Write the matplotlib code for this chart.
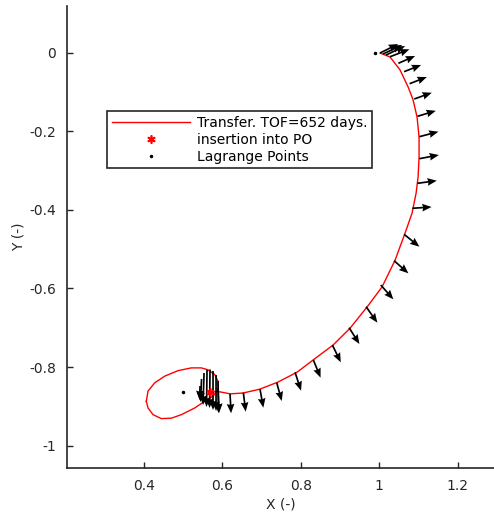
import matplotlib
matplotlib.use("Agg")
import matplotlib.pyplot as plt

# transfer trajectory
transfer_x = [1.0020, 1.0276, 1.0530, 1.0735, 1.0862, 1.0964, 1.1015, 1.1015, 1.0990, 1.0940,
              1.0837, 1.0658, 1.0403, 1.0071, 0.9689, 0.9255, 0.8821, 0.8311, 0.7903, 0.7418,
              0.6959, 0.6526, 0.6194, 0.5939, 0.5684]
transfer_y = [-0.001, -0.011, -0.044, -0.087, -0.120, -0.164, -0.215, -0.265, -0.316, -0.357,
              -0.408, -0.459, -0.528, -0.596, -0.647, -0.701, -0.744, -0.782, -0.813, -0.838,
              -0.856, -0.866, -0.868, -0.863, -0.863]

# periodic orbit around L4
po_x = [0.4059, 0.4102, 0.4273, 0.4528, 0.4867, 0.5207, 0.5462, 0.5633, 0.5804, 0.5888,
        0.5888, 0.5760, 0.5548, 0.5293, 0.4952, 0.4696, 0.4441, 0.4230, 0.4102, 0.4059]
po_y = [-0.887, -0.861, -0.840, -0.823, -0.809, -0.802, -0.802, -0.807, -0.819, -0.836,
        -0.858, -0.874, -0.887, -0.904, -0.921, -0.930, -0.931, -0.921, -0.904, -0.887]

# thrust arrows: tails and components
arrow_x = [1.0020, 1.0097, 1.0173, 1.0276, 1.0487, 1.0633, 1.0773, 1.0893, 1.0977, 1.1023,
           1.1023, 1.0977, 1.0844, 1.0633, 1.0378, 1.0038, 0.9663, 0.9230, 0.8804, 0.8319,
           0.7852, 0.7385, 0.6959, 0.6533, 0.6194,
           0.5429, 0.5467, 0.5531, 0.5607, 0.5684, 0.5760, 0.5837, 0.5888, 0.5888]
arrow_y = [-0.0008, -0.0033, -0.0059, -0.0102, -0.0270, -0.0483, -0.0789, -0.1178, -0.1618, -0.2137,
           -0.2697, -0.3323, -0.3959, -0.4621, -0.5293, -0.5911, -0.6463, -0.6997, -0.7438, -0.7819,
           -0.8132, -0.8397, -0.8565, -0.8651, -0.8684,
           -0.8481, -0.8303, -0.8150, -0.8074, -0.8061, -0.8099, -0.8201, -0.8354, -0.8532]
arrow_u = [0.0459, 0.0485, 0.0485, 0.0492, 0.0426, 0.0434, 0.0439, 0.0446, 0.0464, 0.0485,
           0.0497, 0.0490, 0.0490, 0.0390, 0.0365, 0.0321, 0.0288, 0.0263, 0.0214, 0.0184,
           0.0153, 0.0128, 0.0084, 0.0061, 0.0026,
           -0.0013, -0.0026, -0.0026, -0.0013, -0.0013, 0.0, 0.0, 0.0013, 0.0026]
arrow_v = [0.0229, 0.0229, 0.0229, 0.0188, 0.0186, 0.0170, 0.0170, 0.0160, 0.0140, 0.0127,
           0.0094, 0.0066, 0.0033, -0.0316, -0.0321, -0.0364, -0.0407, -0.0415, -0.0440, -0.0450,
           -0.0468, -0.0466, -0.0468, -0.0483, -0.0491,
           -0.0356, -0.0585, -0.0814, -0.0941, -0.0980, -0.0992, -0.0916, -0.0814, -0.0636]

insertion = (0.568, -0.863)
lagrange_x = [0.9898, 0.4995]
lagrange_y = [0.0, -0.864]

grey = "#262626"

fig = plt.figure(figsize=(4.94, 5.17), dpi=100)
ax = fig.add_axes([0.1362, 0.0948, 0.8638, 0.8942])

ax.plot(transfer_x, transfer_y, color="red", lw=1, label="Transfer. TOF=652 days.")
ax.plot(po_x, po_y, color="red", lw=1)
ax.quiver(arrow_x, arrow_y, arrow_u, arrow_v, angles="xy", scale_units="xy", scale=1,
          color="black", width=0.004, headwidth=4.5, headlength=5.5, headaxislength=5, zorder=3)
ax.plot([insertion[0]], [insertion[1]], ls="none", marker=(6, 2, 0), ms=6, mew=1.2,
        color="red", label="insertion into PO", zorder=4)
ax.plot(lagrange_x, lagrange_y, ls="none", marker="o", ms=1.5, color="black",
        label="Lagrange Points")

ax.set_xlim(0.2043, 1.2926)
ax.set_ylim(-1.0567, 0.1196)
ax.set_xticks([0.4, 0.6, 0.8, 1.0, 1.2])
ax.set_xticklabels(["0.4", "0.6", "0.8", "1", "1.2"])
ax.set_yticks([0, -0.2, -0.4, -0.6, -0.8, -1])
ax.set_yticklabels(["0", "-0.2", "-0.4", "-0.6", "-0.8", "-1"])

for s in ["top", "right"]:
    ax.spines[s].set_visible(False)
for s in ["left", "bottom"]:
    ax.spines[s].set_color(grey)
    ax.spines[s].set_linewidth(1.2)
ax.tick_params(direction="in", length=4.5, width=1, colors=grey, labelsize=10, pad=8)
ax.set_xlabel("X (-)", fontsize=10, color=grey, labelpad=3)
ax.set_ylabel("Y (-)", fontsize=10, color=grey, labelpad=3)

leg = ax.legend(loc="upper left", bbox_to_anchor=(0.093, 0.772), borderaxespad=0,
                fontsize=10, handlelength=5.6, handletextpad=0.5, labelspacing=0.2,
                borderpad=0.35, fancybox=False, framealpha=1, edgecolor=grey)
leg.get_frame().set_linewidth(1.2)

fig.savefig("out.png", dpi=100)
